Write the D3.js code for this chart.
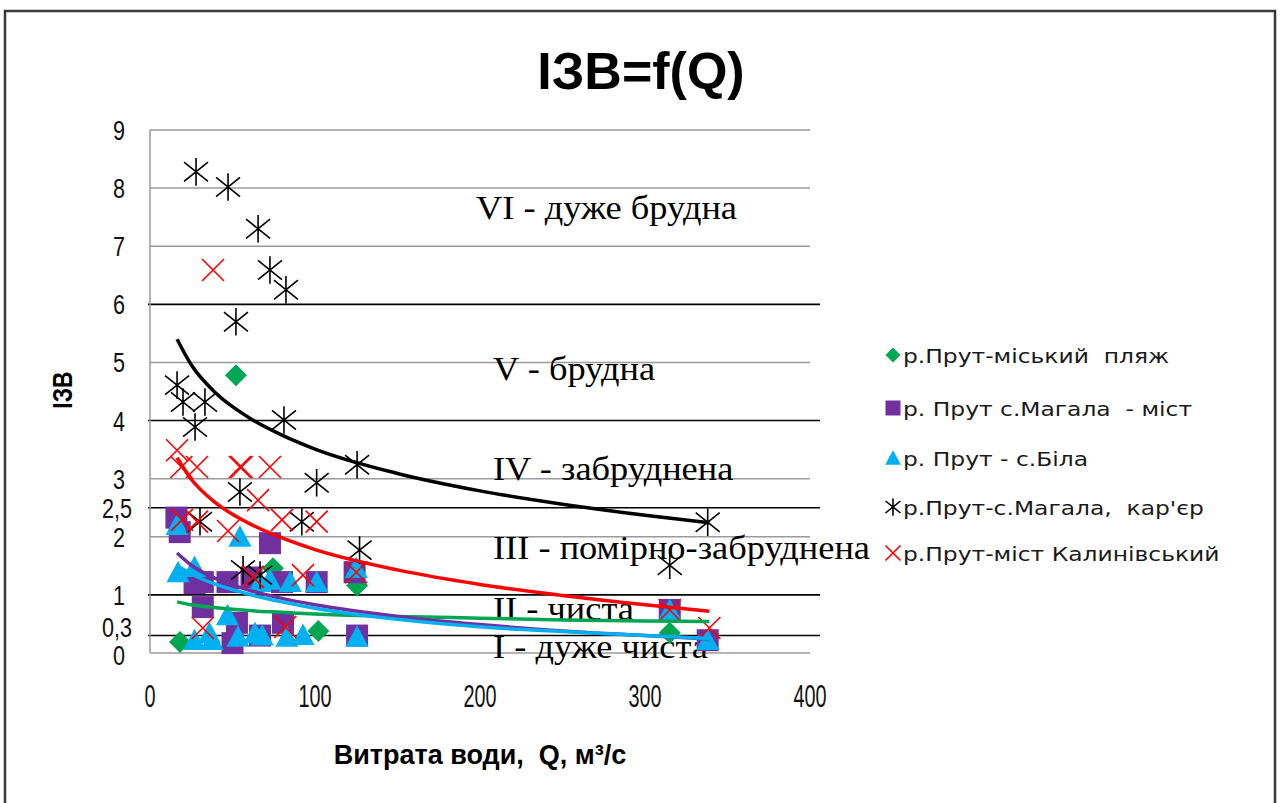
<!DOCTYPE html>
<html>
<head>
<meta charset="utf-8">
<script src="https://cdn.jsdelivr.net/npm/d3@7/dist/d3.min.js"></script>
<style>
  html, body { margin: 0; padding: 0; background: #ffffff; }
  svg { display: block; }
  .sans { font-family: "Liberation Sans", Arial, sans-serif; }
  .serif { font-family: "Liberation Serif", "Times New Roman", serif; }
  .legend { font-family: "DejaVu Sans", "Open Sans", sans-serif; }
</style>
</head>
<body>
<svg id="chart" width="1280" height="803"></svg>
<script>
// ---- Series: water discharge Q (m³/s) and water pollution index (ІЗВ) ----
const seriesNames = [
  "р.Прут-міський  пляж",
  "р. Прут с.Магала  - міст",
  "р. Прут - с.Біла",
  "р.Прут-с.Магала,  кар'єр",
  "р.Прут-міст Калинівський"
];
const seriesColors = ["#00a651", "#7030a0", "#00b0f0", "#000000", "#ff0000"];
const seriesShapes = ["diamond", "square", "triangle", "asterisk", "cross"];

const plyazhQ   = [52.1, 18.2, 74.5, 102, 125.5, 315];
const plyazhIZV = [4.78, 0.19, 1.46, 0.38, 1.16, 0.35];

const mahalaMistQ   = [16, 18, 27, 32, 47, 61.5, 72.7, 80, 101, 124, 32, 52.7, 50, 66.7, 80.6, 125.5, 315, 338];
const mahalaMistIZV = [2.33, 2.08, 1.2, 1.22, 1.22, 1.3, 1.89, 1.22, 1.22, 1.39, 0.79, 0.52, 0.17, 0.3, 0.52, 0.3, 0.74, 0.22];

const bilaQ   = [16.4, 54.5, 17, 27, 66.7, 72.7, 85, 101, 125, 27, 37.6, 47, 53.3, 36, 63.6, 68, 83, 92.7, 125.5, 315, 338];
const bilaIZV = [2.2, 2.0, 1.39, 1.48, 1.22, 1.26, 1.22, 1.22, 1.46, 0.22, 0.22, 0.65, 0.28, 0.34, 0.34, 0.3, 0.28, 0.31, 0.28, 0.74, 0.22];

const karierQ   = [27.9, 47.3, 65.5, 72.7, 82.4, 52.1, 16.4, 20, 33.3, 27.3, 81.2, 54.5, 101, 125.5, 30.3, 92, 56.4, 66.7, 127, 315, 338];
const karierIZV = [8.28, 8.02, 7.3, 6.59, 6.25, 5.7, 4.61, 4.32, 4.32, 3.89, 4.01, 2.77, 2.93, 3.24, 2.26, 2.26, 1.43, 1.34, 1.77, 1.51, 2.25];

const kalynivskyiQ   = [38.2, 16.4, 19, 28.5, 54.5, 55.5, 72.7, 65.5, 19.4, 28.5, 47.3, 80, 101, 62.4, 92.7, 125, 32, 82, 315, 339];
const kalynivskyiIZV = [6.59, 3.49, 3.2, 3.2, 3.2, 3.2, 3.2, 2.63, 2.29, 2.26, 2.1, 2.29, 2.26, 1.31, 1.34, 1.39, 0.43, 0.45, 0.74, 0.43];

// ---- Logarithmic trend lines, sampled along Q ----
const trendQ = [16.4, 25, 40, 60, 80, 100, 150, 200, 250, 300, 339];
const trendPlyazh      = [0.88, 0.83, 0.78, 0.73, 0.70, 0.67, 0.63, 0.60, 0.57, 0.55, 0.54];
const trendMahalaMist  = [1.72, 1.51, 1.28, 1.08, 0.94, 0.83, 0.63, 0.49, 0.38, 0.30, 0.24];
const trendBila        = [1.50, 1.36, 1.18, 1.01, 0.88, 0.77, 0.58, 0.45, 0.37, 0.30, 0.25];
const trendKarier      = [5.40, 4.96, 4.47, 4.05, 3.75, 3.51, 3.09, 2.79, 2.56, 2.37, 2.24];
const trendKalynivskyi = [3.36, 2.99, 2.58, 2.23, 1.98, 1.78, 1.43, 1.18, 0.99, 0.83, 0.72];

// ---- Axes and water quality classes ----
const xTicks = [0, 100, 200, 300, 400];
const yTicks = [0, 0.3, 1, 2, 2.5, 3, 4, 5, 6, 7, 8, 9];
const grayGrid = [2, 3, 5, 7, 8, 9];
const classBounds = [0.3, 1, 2.5, 4, 6];
const classLabels = ["VI - дуже брудна", "V - брудна", "IV - забруднена", "III - помірно-забруднена", "II - чиста", "I - дуже чиста"];
const classLabelY = [7.47, 4.69, 2.98, 1.62, 0.57, -0.08];

const svg = d3.select("#chart");

const x = d3.scaleLinear().domain([0, 400]).range([150, 810]);
const y = d3.scaleLinear().domain([0, 9]).range([653, 130]);

// horizontally condensed / stretched text helper
function label(g, px, py, txt, sx, anchor) {
  return g.append("text")
    .attr("transform", `translate(${px},${py}) scale(${sx},1)`)
    .attr("text-anchor", anchor || "start")
    .style("white-space", "pre")
    .text(txt);
}

// outer frame
svg.append("rect").attr("x", 5).attr("y", 11).attr("width", 1270).attr("height", 800)
  .attr("fill", "#fff").attr("stroke", "#3a3a3a").attr("stroke-width", 2.5);

// gray gridlines
svg.append("g").selectAll("line").data(grayGrid).join("line")
  .attr("x1", x(0)).attr("x2", x(400))
  .attr("y1", d => y(d)).attr("y2", d => y(d))
  .attr("stroke", "#9a9a9a").attr("stroke-width", 1.5);

// class boundary lines
svg.append("g").selectAll("line").data(classBounds).join("line")
  .attr("x1", x(0) - 2).attr("x2", 820)
  .attr("y1", d => y(d)).attr("y2", d => y(d))
  .attr("stroke", "#000").attr("stroke-width", 1.6);

// axis lines
svg.append("line").attr("x1", x(0)).attr("x2", x(0)).attr("y1", y(9)).attr("y2", y(0))
  .attr("stroke", "#9a9a9a").attr("stroke-width", 1.5);
svg.append("line").attr("x1", x(0)).attr("x2", x(400)).attr("y1", y(0)).attr("y2", y(0))
  .attr("stroke", "#9a9a9a").attr("stroke-width", 1.5);

// y tick labels
const commaFmt = d => String(d).replace(".", ",");
const gy = svg.append("g").attr("class", "sans").attr("font-size", 27).attr("fill", "#111");
yTicks.forEach(d => {
  const frac = d % 1 !== 0;
  const px = frac ? 132 : 125;
  let py = y(d) + 10;
  if (d === 0.3) py = y(d) + 1;
  if (d === 0) py = y(d) + 12;
  label(gy, px, py, commaFmt(d), 0.8, "end");
});

// x tick labels
const gx = svg.append("g").attr("class", "sans").attr("font-size", 32).attr("fill", "#111");
xTicks.forEach(d => label(gx, x(d), 707, String(d), 0.62, "middle"));

// class labels
const gc = svg.append("g").attr("class", "serif").attr("font-size", 34).attr("fill", "#000");
classLabels.forEach((t, i) => label(gc, i === 0 ? 476 : 493, y(classLabelY[i]), t, 1.07, "start"));

// marker shapes
function shapePath(type, r) {
  switch (type) {
    case "diamond": return `M0,${-r}L${r},0L0,${r}L${-r},0Z`;
    case "square": return `M${-r},${-r}H${r}V${r}H${-r}Z`;
    case "triangle": return `M0,${-r * 1.05}L${r * 1.05},${r * 0.9}L${-r * 1.05},${r * 0.9}Z`;
    case "asterisk": return `M${-r},${-r * 0.8}L${r},${r * 0.8}M${r},${-r * 0.8}L${-r},${r * 0.8}M0,${-r * 1.15}L0,${r * 1.15}`;
    case "cross": return `M${-r},${-r}L${r},${r}M${r},${-r}L${-r},${r}`;
  }
}
const markerSize = [11, 11, 11, 12, 11];
function styleMarker(sel, i) {
  const filled = seriesShapes[i] === "diamond" || seriesShapes[i] === "square" || seriesShapes[i] === "triangle";
  sel.attr("fill", filled ? seriesColors[i] : "none")
     .attr("stroke", filled ? "none" : seriesColors[i])
     .attr("stroke-width", filled ? 0 : 1.6);
}

const seriesQ = [plyazhQ, mahalaMistQ, bilaQ, karierQ, kalynivskyiQ];
const seriesV = [plyazhIZV, mahalaMistIZV, bilaIZV, karierIZV, kalynivskyiIZV];
const trends = [trendPlyazh, trendMahalaMist, trendBila, trendKarier, trendKalynivskyi];

// points
seriesQ.forEach((qs, i) => {
  const pts = qs.map((q, j) => [q, seriesV[i][j]]);
  svg.append("g").selectAll("path").data(pts).join("path")
    .attr("transform", d => `translate(${x(d[0])},${y(d[1])})`)
    .attr("d", shapePath(seriesShapes[i], markerSize[i]))
    .call(styleMarker, i);
});

// trend lines
const line = d3.line().x(d => x(d[0])).y(d => y(d[1])).curve(d3.curveMonotoneX);
trends.forEach((tr, i) => {
  const pts = trendQ.map((q, j) => [q, tr[j]]);
  svg.append("path").datum(pts).attr("d", line)
    .attr("fill", "none").attr("stroke", seriesColors[i]).attr("stroke-width", 3.5);
});

// legend
const legY = [355, 408, 458, 507, 553];
const leg = svg.append("g");
const legText = leg.append("g").attr("class", "legend").attr("font-size", 20).attr("fill", "#1a1a1a");
seriesNames.forEach((name, i) => {
  leg.append("path").attr("transform", `translate(893,${legY[i]})`)
    .attr("d", shapePath(seriesShapes[i], 7.5)).call(styleMarker, i);
  label(legText, 903, legY[i] + 8, name, 1.17, "start");
});

// titles
const gt = svg.append("g").attr("class", "sans").attr("font-weight", "bold").attr("fill", "#000");
label(gt, 641, 89, "ІЗВ=f(Q)", 1, "middle").attr("font-size", 52);
gt.append("text").attr("transform", "translate(72,390) rotate(-90) scale(0.85,1)")
  .attr("text-anchor", "middle").attr("font-size", 27).text("ІЗВ");
label(gt, 480, 764, "Витрата води,  Q, м³/с", 1, "middle").attr("font-size", 27);
</script>
</body>
</html>
